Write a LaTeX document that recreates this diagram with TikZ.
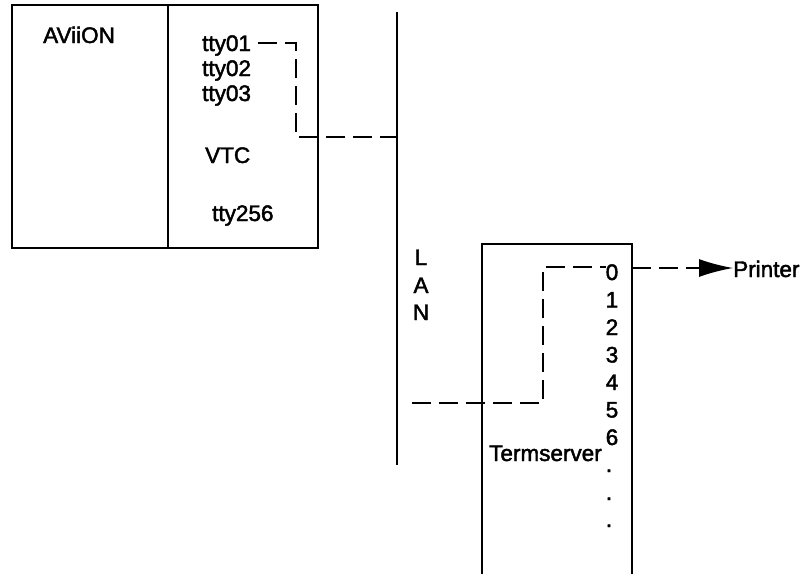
\documentclass[tikz,border=0pt]{standalone}
\usepackage{fontspec}
\setmainfont{Liberation Sans}
\newfontfamily\lblfont{Liberation Sans}[BoldFont={Liberation Sans},BoldFeatures={FakeBold=2}]
\usetikzlibrary{arrows.meta}
\begin{document}
\begin{tikzpicture}[x=1pt,y=-1pt,
  lbl/.style={font=\fontsize{22.5}{25}\lblfont\bfseries, inner sep=0pt, anchor=base},
  lblw/.style={lbl, anchor=base west},
  boxline/.style={line width=1.5pt},
  lanline/.style={line width=2pt},
  conn/.style={line width=1.5pt, dash pattern=on 19pt off 8pt}]
\useasboundingbox (0,0) rectangle (805,573);
% AViiON box
\draw[boxline] (12,5) rectangle (318,248);
\draw[boxline] (168,5) -- (168,248);
\node[lblw] (aviion) at (43,43) {AViiON};
\node[lblw] (tty01) at (202,51) {tty01};
\node[lblw] (tty02) at (202,76) {tty02};
\node[lblw] (tty03) at (202,101) {tty03};
\node[lblw] (vtc) at (205,163) {VTC};
\node[lblw] (tty256) at (212,221) {tty256};
% LAN
\coordinate (lantop) at (397,12);
\coordinate (lanbot) at (397,465);
\draw[lanline] (lantop) -- (lanbot);
\node[lbl] (L) at (421,265) {L};
\node[lbl] (A) at (421,293) {A};
\node[lbl] (N) at (421,320) {N};
% Termserver box (open at the bottom)
\draw[boxline] (482,575) -- (482,244) -- (632,244) -- (632,575);
\node[lbl] (p0) at (612,280) {0};
\node[lbl] (p1) at (612,307.5) {1};
\node[lbl] (p2) at (612,335) {2};
\node[lbl] (p3) at (612,362.5) {3};
\node[lbl] (p4) at (612,390) {4};
\node[lbl] (p5) at (612,417.5) {5};
\node[lbl] (p6) at (612,445) {6};
\node[lbl] (d1) at (609,472) {.};
\node[lbl] (d2) at (609,500) {.};
\node[lbl] (d3) at (609,527) {.};
\node[lblw] (ts) at (489,461) {Termserver};
\node[lblw] (printer) at (733,277) {Printer};
% connectors
\coordinate (c1a) at (296,43);
\coordinate (c1b) at (296,137);
\coordinate (c1c) at (397,137);
\draw[conn] ([xshift=7pt]tty01.east |- c1a) -- (c1a) -- (c1b) -- (c1c);
\coordinate (c2a) at (412,403);
\coordinate (c2b) at (543,403);
\coordinate (c2c) at (543,267);
\draw[conn] (c2a) -- (c2b) -- (c2c) -- (p0.west |- c2c);
\coordinate (c3a) at (632,268);
\draw[conn, -{Latex[length=34pt,width=18pt]}] (c3a) -- (printer.west |- c3a);
\end{tikzpicture}
\end{document}
